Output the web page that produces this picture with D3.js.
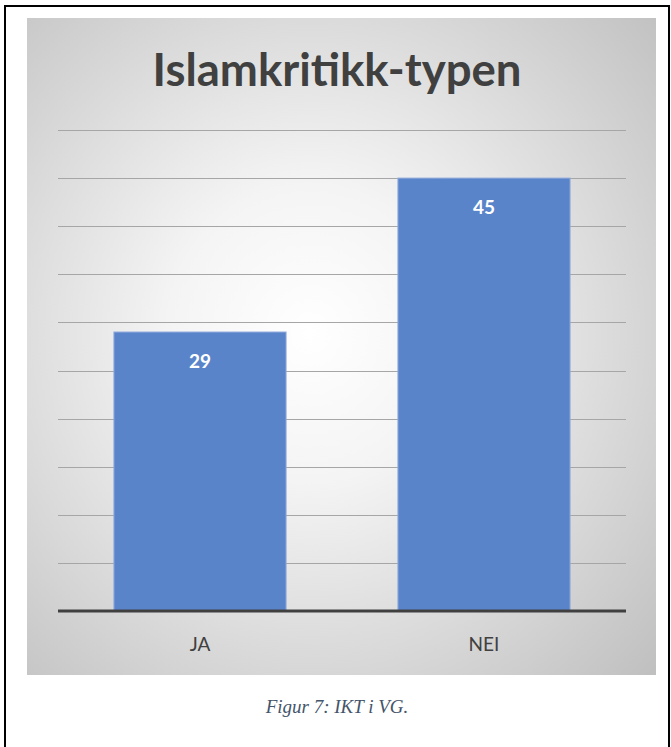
<!DOCTYPE html>
<html><head><meta charset="utf-8">
<script src="https://cdn.jsdelivr.net/npm/d3@7"></script>
<style>body{margin:0;background:#fff;}svg{display:block;}</style>
</head><body>
<script>
const categories = ["JA", "NEI"];
const values = [29, 45];
const yTicks = [0, 5, 10, 15, 20, 25, 30, 35, 40, 45, 50];
const title = "Islamkritikk-typen";
const caption = "Figur 7: IKT i VG.";

const W = 671, H = 747;
const svg = d3.select("body").append("svg").attr("width", W).attr("height", H);
const defs = svg.append("defs");
const rg = defs.append("radialGradient").attr("id", "bg")
  .attr("cx", "0.45").attr("cy", "0.48").attr("r", "0.75");
rg.append("stop").attr("offset", "0").attr("stop-color", "#ffffff");
rg.append("stop").attr("offset", "0.3").attr("stop-color", "#f4f4f4");
rg.append("stop").attr("offset", "1").attr("stop-color", "#c0c0c0");

// outer border
svg.append("rect").attr("x", 5).attr("y", 6).attr("width", 664).attr("height", 760)
  .attr("fill", "none").attr("stroke", "#000").attr("stroke-width", 2);

// chart area
svg.append("rect").attr("x", 27).attr("y", 18).attr("width", 629).attr("height", 657)
  .attr("fill", "url(#bg)");

svg.append("text").attr("x", 337).attr("y", 86).attr("text-anchor", "middle")
  .attr("font-family", "Lato, 'Open Sans', sans-serif").attr("font-weight", "bold")
  .attr("font-size", 45.5).attr("fill", "#404040").text(title);

const x = d3.scaleBand().domain(categories).range([58, 626]).paddingInner(0.65/1.65).paddingOuter(0.65/1.65/2);
const y = d3.scaleLinear().domain([0, 50]).range([611, 130]);

const grid = svg.append("g");
grid.selectAll("line").data(yTicks.filter(d => d > 0)).join("line")
  .attr("x1", 58).attr("x2", 626)
  .attr("y1", d => Math.round(y(d)) + 0.5).attr("y2", d => Math.round(y(d)) + 0.5)
  .attr("stroke", "#a6a6a6").attr("stroke-width", 1);

svg.selectAll("rect.bar").data(values).join("rect").attr("class", "bar")
  .attr("x", (d, i) => x(categories[i])).attr("width", x.bandwidth())
  .attr("y", d => y(d)).attr("height", d => y(0) - y(d))
  .attr("fill", "#5a84ca").attr("stroke", "#8fabdc").attr("stroke-width", 1);

svg.selectAll("text.val").data(values).join("text").attr("class", "val")
  .attr("x", (d, i) => x(categories[i]) + x.bandwidth() / 2)
  .attr("y", d => y(d) + 36).attr("text-anchor", "middle")
  .attr("font-family", "Lato, 'Open Sans', sans-serif").attr("font-weight", "bold")
  .attr("font-size", 19).attr("fill", "#ffffff").text(d => d);

// baseline
svg.append("line").attr("x1", 58).attr("x2", 626).attr("y1", y(0)).attr("y2", y(0))
  .attr("stroke", "#404040").attr("stroke-width", 3);

const xAxis = d3.axisBottom(x).tickSize(0).tickPadding(0);
const gx = svg.append("g").attr("transform", `translate(0,${y(0)})`).call(xAxis);
gx.select(".domain").remove();
gx.selectAll("text").attr("dy", null).attr("y", 40)
  .attr("font-family", "Lato, 'Open Sans', sans-serif").attr("font-size", 19)
  .attr("fill", "#404040");

svg.append("text").attr("x", 337).attr("y", 713).attr("text-anchor", "middle")
  .attr("font-family", "'Liberation Serif', serif").attr("font-style", "italic")
  .attr("font-size", 19).attr("fill", "#44546a").text(caption);
</script>
</body></html>
